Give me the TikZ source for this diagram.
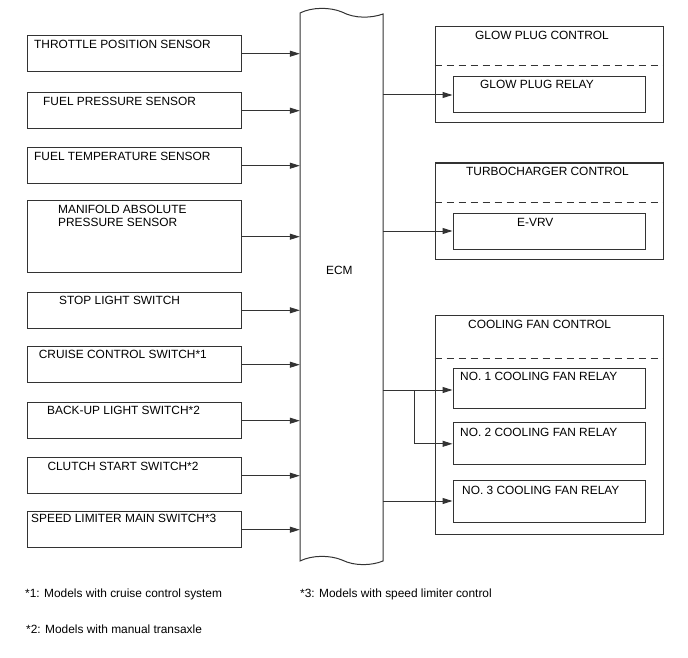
\documentclass[tikz,border=0pt]{standalone}
\usepackage{fontspec}
\setmainfont{Liberation Sans}
\usetikzlibrary{arrows.meta}
\begin{document}
\begin{tikzpicture}[x=1pt, y=-1pt,
  ln/.style={draw=black!80, line width=1pt},
  sbox/.style={ln, rectangle, inner sep=0, minimum width=214, minimum height=36},
  obox/.style={ln, rectangle, inner sep=0, minimum width=228},
  ibox/.style={ln, rectangle, inner sep=0, minimum width=192, minimum height=36},
  txt/.style={anchor=base west, inner sep=0, font=\fontsize{11.9}{14}\selectfont},
  arr/.style={ln, -{Triangle[length=10pt, width=6pt]}},
  dashln/.style={ln, dash pattern=on 7pt off 5pt}]
  \useasboundingbox (0,0) rectangle (688,658);

  \node[inner sep=0, minimum width=83, minimum height=548] (ecm) at (341.5,287) {};
  \draw[ln] (300,13) .. controls (312,7) and (330,7) .. (342,12)
    .. controls (355,19) and (372,18) .. (383,14) -- (383,561)
    .. controls (372,565.5) and (355,566.5) .. (342,560)
    .. controls (330,555) and (312,555) .. (300,561) -- cycle;
  \node[txt] (ecmL) at (326,274) {ECM};

  \node[sbox] (tps) at (134.5,53.7) {};
  \node[txt] (tpsL) at (34,48.3) {THROTTLE POSITION SENSOR};
  \draw[arr] (tps) -- (tps -| ecm.west);

  \node[sbox] (fps) at (134.5,110.7) {};
  \node[txt] (fpsL) at (43,105.7) {FUEL PRESSURE SENSOR};
  \draw[arr] (fps) -- (fps -| ecm.west);

  \node[sbox] (fts) at (134.5,165.7) {};
  \node[txt] (ftsL) at (34,160.3) {FUEL TEMPERATURE SENSOR};
  \draw[arr] (fts) -- (fts -| ecm.west);

  \node[sbox, minimum height=72] (map) at (134.5,236.7) {};
  \node[txt] (mapL) at (58,213) {MANIFOLD ABSOLUTE};
  \node[txt] (mapM) at (58,226.7) {PRESSURE SENSOR};
  \draw[arr] (map) -- (map -| ecm.west);

  \node[sbox] (sls) at (134.5,310.3) {};
  \node[txt] (slsL) at (59,304) {STOP LIGHT SWITCH};
  \draw[arr] (sls) -- (sls -| ecm.west);

  \node[sbox] (ccs) at (134.5,364.7) {};
  \node[txt] (ccsL) at (38.7,358.3) {CRUISE CONTROL SWITCH*1};
  \draw[arr] (ccs) -- (ccs -| ecm.west);

  \node[sbox] (bls) at (134.5,420.7) {};
  \node[txt] (blsL) at (47,414.3) {BACK-UP LIGHT SWITCH*2};
  \draw[arr] (bls) -- (bls -| ecm.west);

  \node[sbox] (css) at (134.5,475.7) {};
  \node[txt] (cssL) at (47.3,470) {CLUTCH START SWITCH*2};
  \draw[arr] (css) -- (css -| ecm.west);

  \node[sbox] (slm) at (134.5,529.7) {};
  \node[txt] (slmL) at (31,522.3) {SPEED LIMITER MAIN SWITCH*3};
  \draw[arr] (slm) -- (slm -| ecm.west);

  \node[obox, minimum height=96] (gpc) at (549,75) {};
  \node[txt] (gpcL) at (475,40) {GLOW PLUG CONTROL};
  \draw[dashln] (gpc.west |- 0,66) -- (gpc.east |- 0,66);
  \node[ibox] (gpr) at (549,95) {};
  \node[txt] (gprL) at (480,88.3) {GLOW PLUG RELAY};
  \draw[arr] (ecm.east |- gpr) -- (gpr);

  \node[obox, minimum height=96] (tcc) at (549,211) {};
  \node[txt] (tccL) at (466,175.7) {TURBOCHARGER CONTROL};
  \draw[dashln] (tcc.west |- 0,202) -- (tcc.east |- 0,202);
  \node[ibox] (evrv) at (549,231) {};
  \node[txt] (evrvL) at (517,226) {E-VRV};
  \draw[arr] (ecm.east |- evrv) -- (evrv);

  \node[obox, minimum height=219] (cfc) at (549,424.5) {};
  \node[txt] (cfcL) at (468,328.3) {COOLING FAN CONTROL};
  \draw[dashln] (cfc.west |- 0,358) -- (cfc.east |- 0,358);
  \node[ibox, minimum height=40] (cf1) at (549,388.5) {};
  \node[txt] (cf1L) at (460,380.7) {NO. 1 COOLING FAN RELAY};
  \node[ibox, minimum height=42] (cf2) at (549,443.8) {};
  \node[txt] (cf2L) at (460,436.7) {NO. 2 COOLING FAN RELAY};
  \node[ibox, minimum height=42] (cf3) at (549,501) {};
  \node[txt] (cf3L) at (462,494) {NO. 3 COOLING FAN RELAY};
  \coordinate (split) at (414,390);
  \draw[arr] (ecm.east |- split) -- (split -| cf1.west);
  \draw[arr] (split) |- (cf2);
  \draw[arr] (ecm.east |- cf3) -- (cf3);

  \node[txt] (n1) at (25,597) {*1: Models with cruise control system};
  \node[txt] (n3) at (300,597) {*3: Models with speed limiter control};
  \node[txt] (n2) at (26,633) {*2: Models with manual transaxle};
\end{tikzpicture}
\end{document}
